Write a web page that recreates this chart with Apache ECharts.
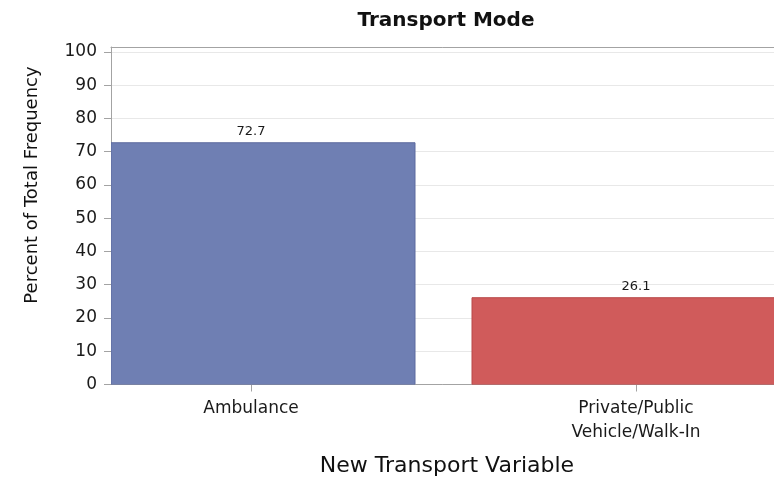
<!DOCTYPE html>
<html>
<head>
<meta charset="utf-8">
<script src="https://cdn.jsdelivr.net/npm/echarts@6/dist/echarts.min.js"></script>
<style>
html,body{margin:0;padding:0;background:#fff;}
#chart{width:774px;height:492px;}
</style>
</head>
<body>
<div id="chart"></div>
<script>
// ---- data ----
const categories = ['Ambulance', 'Private/Public\nVehicle/Walk-In'];
const values = [72.7, 26.1];
const barColors = ['#6F7FB3', '#D05B5B'];
const barBorders = ['#5C6A9E', '#B84848'];
const yTicks = [0, 10, 20, 30, 40, 50, 60, 70, 80, 90, 100];
const titleText = 'Transport Mode';
const xTitle = 'New Transport Variable';
const yTitle = 'Percent of Total Frequency';

// ---- layout ----
const FONT = 'DejaVu Sans';
const gridLeft = 111, gridTop = 47, gridBottom = 107.5, gridRight = -200;
const canvasW = 774;
const gridW = canvasW - gridLeft - gridRight;
const unitPx = 385;               // pixels between category centres
const firstCenterPx = 140;        // first category centre from the y axis
const xMin = -firstCenterPx / unitPx;
const xMax = xMin + gridW / unitPx;
const barFrac = 328 / 385;
const frameColor = '#a3a3a3';

const chart = echarts.init(document.getElementById('chart'), null, {renderer: 'canvas'});
chart.setOption({
  animation: false,
  backgroundColor: '#ffffff',
  grid: {
    left: gridLeft, top: gridTop, bottom: gridBottom, right: gridRight,
    outerBoundsMode: 'none',
    show: false,
    containLabel: false
  },
  xAxis: [{
    type: 'value', min: xMin, max: xMax, position: 'bottom',
    axisLine: {show: true, onZero: false, lineStyle: {color: frameColor, width: 1}},
    axisTick: {show: true, customValues: categories.map((c, i) => i), length: 7, lineStyle: {color: frameColor}},
    axisLabel: {
      show: true, customValues: categories.map((c, i) => i),
      formatter: v => categories[Math.round(v)] || '',
      fontFamily: FONT, fontSize: 17, color: '#1a1a1a', margin: 12, lineHeight: 24
    },
    splitLine: {show: false}
  }, {
    type: 'value', min: xMin, max: xMax, position: 'top',
    axisLine: {show: true, onZero: false, lineStyle: {color: frameColor, width: 1}},
    axisTick: {show: false}, axisLabel: {show: false}, splitLine: {show: false}
  }],
  yAxis: {
    type: 'value', min: 0, max: 101.5, interval: 10,
    axisLine: {show: true, onZero: false, lineStyle: {color: frameColor, width: 1}},
    axisTick: {show: true, customValues: yTicks, length: 7, lineStyle: {color: frameColor}},
    axisLabel: {
      customValues: yTicks, fontFamily: FONT, fontSize: 17, color: '#1a1a1a', margin: 14
    },
    splitLine: {show: true, lineStyle: {color: '#e8e8e8', width: 1}}
  },
  series: [{
    type: 'custom',
    xAxisIndex: 0,
    clip: true,
    data: values.map((v, i) => [i, v]),
    renderItem: (params, api) => {
      const i = api.value(0), v = api.value(1);
      const top = api.coord([i, v]);
      const base = api.coord([i, 0]);
      const w = api.size([barFrac, 0])[0];
      const cs = params.coordSys;
      // clip the bar at the y axis (left edge of the plot area)
      const rect = echarts.graphic.clipRectByRect(
        {x: top[0] - w / 2, y: top[1], width: w, height: base[1] - top[1]},
        {x: cs.x, y: cs.y, width: 5000, height: cs.height}
      );
      const idx = params.dataIndex;
      return {
        type: 'group',
        children: [
          {type: 'rect', shape: rect, style: {fill: barColors[idx], stroke: barBorders[idx], lineWidth: 1}},
          {type: 'text', x: top[0], y: top[1] - 5,
           style: {text: v.toFixed(1), fontFamily: FONT, fontSize: 13, fill: '#1a1a1a',
                   textAlign: 'center', textVerticalAlign: 'bottom'}}
        ]
      };
    }
  }],
  graphic: [
    {type: 'text', x: 446, y: 21, style: {text: titleText, fontFamily: FONT, fontSize: 20, fontWeight: 'bold', fill: '#111', textAlign: 'center', textVerticalAlign: 'middle'}},
    {type: 'text', x: 447, y: 466, style: {text: xTitle, fontFamily: FONT, fontSize: 22, fill: '#111', textAlign: 'center', textVerticalAlign: 'middle'}},
    {type: 'text', x: 32, y: 185, rotation: Math.PI / 2, style: {text: yTitle, fontFamily: FONT, fontSize: 18, fill: '#111', textAlign: 'center', textVerticalAlign: 'middle'}}
  ]
});
</script>
</body>
</html>
